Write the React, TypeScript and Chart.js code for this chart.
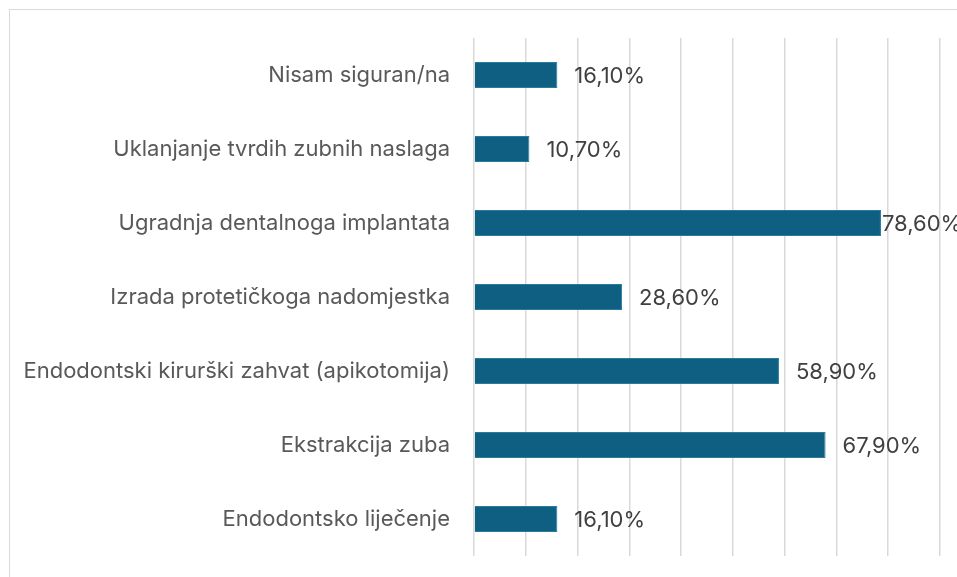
import React, { useEffect, useRef } from "react";
import { Chart, registerables } from "chart.js";

Chart.register(...registerables);

const categories = [
  "Nisam siguran/na",
  "Uklanjanje tvrdih zubnih naslaga",
  "Ugradnja dentalnoga implantata",
  "Izrada protetičkoga nadomjestka",
  "Endodontski kirurški zahvat (apikotomija)",
  "Ekstrakcija zuba",
  "Endodontsko liječenje",
];
const values = [16.1, 10.7, 78.6, 28.6, 58.9, 67.9, 16.1];
const xMax = 90;
const xStep = 10;

const FONT = "Inter, 'Open Sans', sans-serif";

const labelPlugin = {
  id: "valueLabels",
  afterDatasetsDraw(chart: any) {
    const ctx = chart.ctx;
    const meta = chart.getDatasetMeta(0);
    ctx.save();
    ctx.font = `22px ${FONT}`;
    ctx.fillStyle = "#404040";
    ctx.textBaseline = "middle";
    ctx.textAlign = "left";
    meta.data.forEach((bar: any, i: number) => {
      const txt = values[i].toFixed(2).replace(".", ",") + "%";
      const w = ctx.measureText(txt).width;
      let x = bar.x + 17;
      const limit = chart.width + 4;
      if (x + w > limit) x = Math.max(bar.x + 1, limit - w);
      ctx.fillText(txt, x, bar.y + 1);
    });
    ctx.restore();
  },
};

export default function App() {
  const ref = useRef<HTMLCanvasElement>(null);
  useEffect(() => {
    if (!ref.current) return;
    const chart = new Chart(ref.current, {
      type: "bar",
      data: {
        labels: categories,
        datasets: [
          {
            data: values,
            backgroundColor: "#0f5f82",
            borderColor: "#2a7a9c",
            borderWidth: 1,
            categoryPercentage: 1,
            barPercentage: 0.352,
          },
        ],
      },
      options: {
        indexAxis: "y",
        animation: false,
        responsive: false,
        maintainAspectRatio: false,
        layout: { padding: { top: 38, bottom: 21, right: 17, left: 0 } },
        plugins: {
          legend: { display: false },
          tooltip: { enabled: false },
        },
        scales: {
          x: {
            min: 0,
            max: xMax,
            ticks: { display: false, stepSize: xStep },
            grid: { color: "#d9d9d9", lineWidth: 1.5, drawTicks: false },
            border: { display: false },
            afterFit(scale: any) {
              scale.height = 0;
            },
          },
          y: {
            ticks: {
              color: "#595959",
              font: { family: FONT, size: 22 },
              padding: 24,
            },
            grid: { display: false, drawTicks: false },
            border: { display: false },
            afterFit(scale: any) {
              scale.width = 474;
              scale.paddingTop = 0;
              scale.paddingBottom = 0;
            },
          },
        },
      },
      plugins: [labelPlugin],
    });
    return () => chart.destroy();
  }, []);
  return (
    <div
      style={{
        position: "fixed",
        left: 0,
        top: 0,
        width: 957,
        height: 577,
        overflow: "hidden",
        background: "#fff",
      }}
    >
      <div
        style={{
          position: "absolute",
          left: 9,
          top: 9,
          width: 1000,
          height: 620,
          border: "1.5px solid #d9d9d9",
          boxSizing: "border-box",
        }}
      />
      <canvas
        ref={ref}
        width={957}
        height={577}
        style={{ position: "absolute", left: 0, top: 0 }}
      />
    </div>
  );
}
